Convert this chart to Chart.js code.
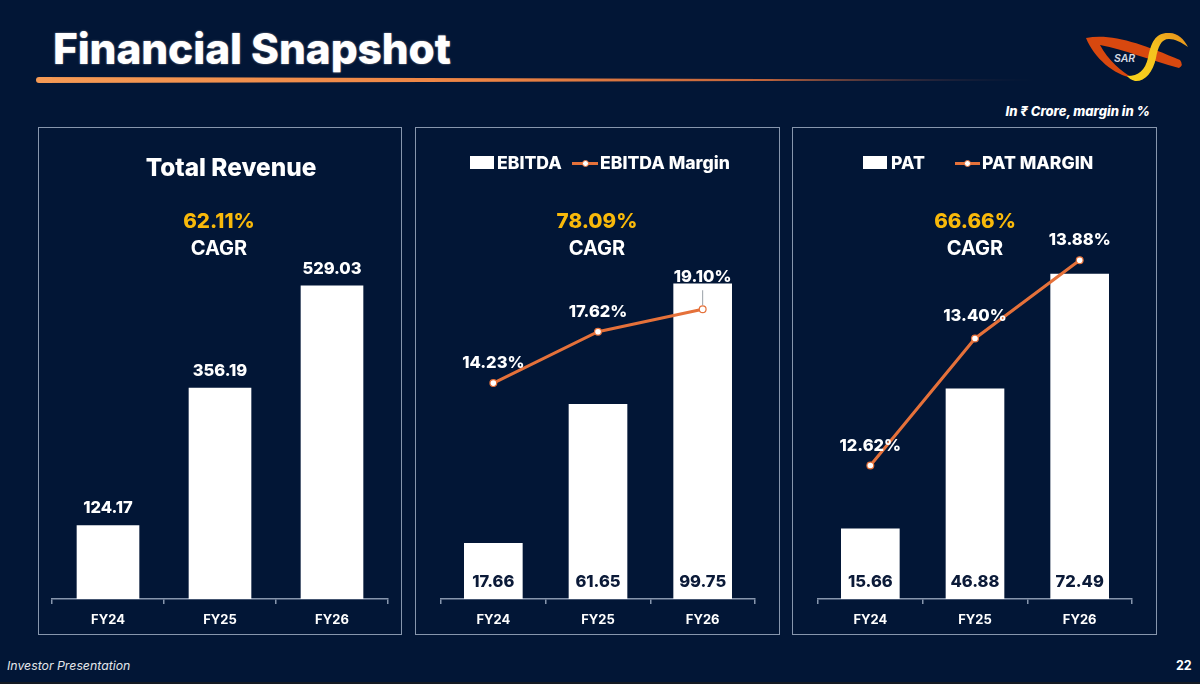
<!DOCTYPE html>
<html>
<head>
<meta charset="utf-8">
<title>Financial Snapshot</title>
<script src="https://cdn.jsdelivr.net/npm/chart.js@4"></script>
<style>
    html, body { margin: 0; padding: 0; background: #021636; }
    body { position: relative; width: 1200px; height: 684px; overflow: hidden; color: #fff; font-family: Inter, "Open Sans", sans-serif; }
    .abs { position: absolute; white-space: nowrap; }
    #title { left: 53px; top: 23px; font-size: 42.4px; line-height: 52px; font-weight: 800; letter-spacing: -0.1px; text-shadow: 0 0 2px rgba(255, 235, 220, .6); }
    #rule { left: 36px; top: 77px; width: 1000px; height: 6px; background: linear-gradient(90deg, #f59a55 0%, #ee8444 45%, #c4663c 72%, rgba(130, 75, 70, .5) 90%, rgba(2, 22, 54, 0) 100%); clip-path: polygon(0 0, 100% 45%, 100% 55%, 0 100%); border-radius: 3px; }
    #logo { left: 0; top: 0; }
    #unit { right: 50px; top: 103px; font-size: 13px; line-height: 16px; font-weight: 800; font-style: italic; }
    .panel { position: absolute; top: 127px; height: 508px; box-sizing: border-box; border: 1.5px solid #8796ad; }
    .panel canvas { position: absolute; left: -1.5px; top: -1.5px; }
    .center { transform: translateX(-50%); text-align: center; }
    .cagr-val { top: 207px; font-size: 20.6px; line-height: 28px; font-weight: 800; color: #f9b90a; }
    .cagr-txt { top: 236px; font-size: 20px; line-height: 24px; font-weight: 700; }
    .heading { top: 153px; font-size: 24.4px; line-height: 28px; font-weight: 800; }
    .legend-txt { top: 152px; font-size: 17.6px; line-height: 21px; font-weight: 800; }
    .swatch { top: 156px; height: 13px; background: #fff; }
    .dash { top: 161.5px; height: 3px; background: #e5713a; }
    .dot { top: 159.5px; width: 7px; height: 7px; border-radius: 50%; background: #fff; box-sizing: border-box; border: 1px solid #e5713a; }
    #footer { left: 7px; top: 658px; font-size: 12.3px; line-height: 16px; font-style: italic; color: #e3e6ea; }
    #page { left: 1176px; top: 658px; font-size: 12.5px; line-height: 16px; font-weight: 700; }
    #strip { left: 0; top: 682px; width: 1200px; height: 2px; background: #141a22; }
</style>
</head>
<body>
<div class="abs" id="title">Financial Snapshot</div>
<div class="abs" id="rule"></div>
<svg class="abs" id="logo" width="1200" height="100">
    <defs>
        <linearGradient id="yel" x1="0" y1="1" x2="1" y2="0">
            <stop offset="0" stop-color="#f6d21c"/>
            <stop offset="0.6" stop-color="#f5c01f"/>
            <stop offset="1" stop-color="#e58a1a"/>
        </linearGradient>
    </defs>
    <path d="M1086 38 C1112 33 1142 44 1180 60 Q1184 65 1179 68 C1150 60 1125 50 1100 45 C1108 60 1122 72 1133 78 C1114 75 1094 58 1086 38Z" fill="#d8480f"/>
    <path d="M1127 76 C1139 76 1145 70 1148 58 C1151 43 1155 33 1168 33 C1177 32 1184 39 1188 47 C1181 42 1175 39 1169 39 C1161 39 1158 47 1156 58 C1153 73 1144 82 1135 81 C1131 80 1129 78 1127 76Z" fill="url(#yel)"/>
    <text x="1114" y="62" font-size="10.5" font-style="italic" font-weight="600" fill="#d5d9e2" font-family="Inter">SAR</text>
</svg>
<div class="abs" id="unit">In ₹ Crore, margin in %</div>

<div class="panel" style="left:38px;width:364px"><canvas id="revenueChart"></canvas></div>
<div class="panel" style="left:415px;width:365px"><canvas id="ebitdaChart"></canvas></div>
<div class="panel" style="left:792px;width:365px"><canvas id="patChart"></canvas></div>

<div class="abs center heading" style="left:231px">Total Revenue</div>

<div class="abs swatch" style="left:470px;width:24px"></div>
<div class="abs legend-txt" id="legendEbitda" style="left:497px"></div>
<div class="abs dash" style="left:572px;width:26px"></div>
<div class="abs dot" style="left:581.5px"></div>
<div class="abs legend-txt" id="legendEbitdaMargin" style="left:600px"></div>

<div class="abs swatch" style="left:863px;width:24px"></div>
<div class="abs legend-txt" id="legendPat" style="left:891px"></div>
<div class="abs dash" style="left:955px;width:25px"></div>
<div class="abs dot" style="left:964px"></div>
<div class="abs legend-txt" id="legendPatMargin" style="left:982px"></div>

<div class="abs center cagr-val" style="left:219px" id="cagrRevenue"></div>
<div class="abs center cagr-txt" style="left:219px">CAGR</div>
<div class="abs center cagr-val" style="left:597px" id="cagrEbitda"></div>
<div class="abs center cagr-txt" style="left:597px">CAGR</div>
<div class="abs center cagr-val" style="left:975px" id="cagrPat"></div>
<div class="abs center cagr-txt" style="left:975px">CAGR</div>

<div class="abs" id="footer">Investor Presentation</div>
<div class="abs" id="page">22</div>
<div class="abs" id="strip"></div>

<script>
// Data
const categories = ['FY24', 'FY25', 'FY26'];
const revenue = [124.17, 356.19, 529.03];
const ebitda = [17.66, 61.65, 99.75];
const ebitdaMargin = [14.23, 17.62, 19.10];
const pat = [15.66, 46.88, 72.49];
const patMargin = [12.62, 13.40, 13.88];
const cagr = { revenue: '62.11%', ebitda: '78.09%', pat: '66.66%' };

const NAVY = '#0b1a38';
const ORANGE = '#e5713a';
const FONT = 'Inter, "Open Sans", sans-serif';

document.getElementById('cagrRevenue').textContent = cagr.revenue;
document.getElementById('cagrEbitda').textContent = cagr.ebitda;
document.getElementById('cagrPat').textContent = cagr.pat;
document.getElementById('legendEbitda').textContent = 'EBITDA';
document.getElementById('legendEbitdaMargin').textContent = 'EBITDA Margin';
document.getElementById('legendPat').textContent = 'PAT';
document.getElementById('legendPatMargin').textContent = 'PAT MARGIN';

// Value labels, no datalabels plugin available
const valueLabels = {
    id: 'valueLabels',
    afterDatasetsDraw(chart, args, opts) {
        const ctx = chart.ctx;
        ctx.save();
        ctx.textAlign = 'center';
        ctx.textBaseline = 'middle';

        const barMeta = chart.getDatasetMeta(opts.lineIndex === undefined ? 0 : 1);
        const barData = chart.data.datasets[barMeta.index].data;
        ctx.font = '800 16.5px ' + FONT;
        barMeta.data.forEach((bar, i) => {
            const text = barData[i].toFixed(2);
            if (opts.barInside) {
                ctx.fillStyle = NAVY;
                ctx.fillText(text, bar.x, chart.scales.x.top - 17);
            } else {
                ctx.fillStyle = '#fff';
                ctx.fillText(text, bar.x, bar.y - 17);
            }
        });

        if (opts.lineIndex !== undefined) {
            const lineMeta = chart.getDatasetMeta(opts.lineIndex);
            const lineData = chart.data.datasets[opts.lineIndex].data;
            lineMeta.data.forEach((pt, i) => {
                const gap = opts.lineGaps[i];
                if (opts.leader === i) {
                    ctx.strokeStyle = '#9aa0a8';
                    ctx.lineWidth = 1;
                    ctx.beginPath();
                    ctx.moveTo(pt.x, pt.y - 4);
                    ctx.lineTo(pt.x, pt.y - 19);
                    ctx.stroke();
                }
                ctx.fillStyle = '#fff';
                ctx.fillText(lineData[i].toFixed(2) + '%', pt.x, pt.y - gap);
            });
        }
        ctx.restore();
    }
};

function xAxis() {
    return {
        offset: true,
        afterFit(scale) { scale.height = 36; },
        border: { color: '#8796ad', width: 1.5 },
        grid: { offset: true, drawOnChartArea: false, drawTicks: true, tickLength: 5, color: '#8796ad', lineWidth: 1.5 },
        ticks: { color: '#fff', font: { family: FONT, size: 13, weight: '700' }, padding: 8, maxRotation: 0 }
    };
}

function barDataset(label, data, thickness) {
    return { type: 'bar', label: label, data: data, yAxisID: 'y', order: 2, backgroundColor: '#fff', borderWidth: 0, barThickness: thickness };
}

function lineDataset(label, data) {
    return {
        type: 'line', label: label, data: data, yAxisID: 'y2', order: 1,
        borderColor: ORANGE, borderWidth: 3, tension: 0,
        pointRadius: 3.4, pointBackgroundColor: '#fff', pointBorderColor: ORANGE, pointBorderWidth: 1.2
    };
}

function makeChart(id, width, sidePad, datasets, yMax, y2Range, labelOpts) {
    const canvas = document.getElementById(id);
    canvas.style.width = width + 'px';
    canvas.style.height = '508px';
    canvas.width = width;
    canvas.height = 508;
    const scales = {
        x: xAxis(),
        y: { display: false, min: 0, max: yMax }
    };
    if (y2Range) scales.y2 = { display: false, min: y2Range[0], max: y2Range[1] };
    return new Chart(canvas.getContext('2d'), {
        data: { labels: categories, datasets: datasets },
        options: {
            responsive: false,
            animation: false,
            devicePixelRatio: 1,
            layout: { padding: { top: 73, bottom: 0, left: sidePad[0], right: sidePad[1] } },
            plugins: { legend: { display: false }, tooltip: { enabled: false }, valueLabels: labelOpts },
            scales: scales
        },
        plugins: [valueLabels]
    });
}

makeChart('revenueChart', 364, [14, 14],
    [barDataset('Total Revenue', revenue, 62)], 674, null,
    { barInside: false });

makeChart('ebitdaChart', 365, [26, 25],
    [lineDataset('EBITDA Margin', ebitdaMargin), barDataset('EBITDA', ebitda, 58)], 126.3, [0, 26.3],
    { barInside: true, lineIndex: 0, lineGaps: [20, 20, 32], leader: 2 });

makeChart('patChart', 365, [26, 25],
    [lineDataset('PAT MARGIN', patMargin), barDataset('PAT', pat, 58)], 89, [11.80, 14.25],
    { barInside: true, lineIndex: 0, lineGaps: [19, 22, 20] });
</script>
</body>
</html>
